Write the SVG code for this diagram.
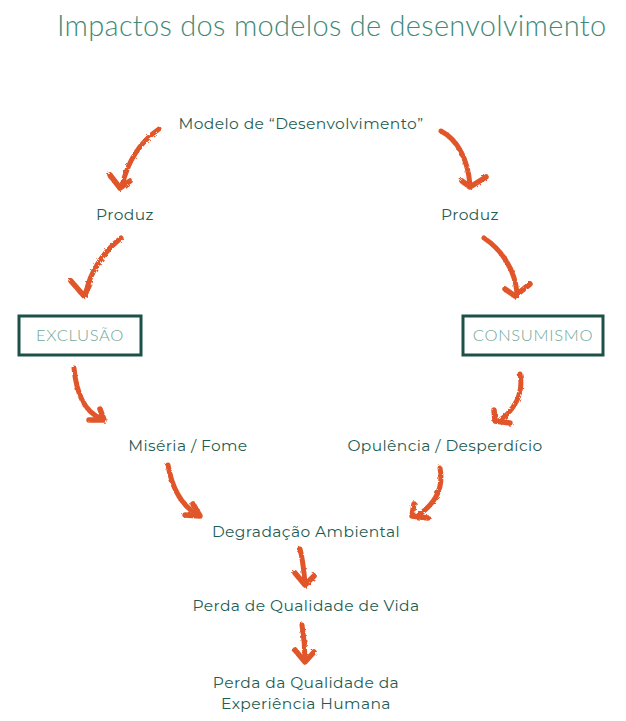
<svg xmlns="http://www.w3.org/2000/svg" width="626" height="721" viewBox="0 0 626 721">
<defs>
<filter id="rough" x="-20%" y="-20%" width="140%" height="140%">
<feTurbulence type="fractalNoise" baseFrequency="0.35" numOctaves="2" seed="3" result="n"/>
<feDisplacementMap in="SourceGraphic" in2="n" scale="3"/>
</filter>
<style>
.t{font-family:"Gotham","Montserrat","Lato","Liberation Sans",sans-serif;font-size:15.5px;letter-spacing:0.4px;fill:#1f5d52;text-anchor:middle}
.title{font-family:"Lato","Liberation Sans",sans-serif;font-weight:300;font-size:29px;letter-spacing:0.3px;fill:#3f8a78}
.bt{font-family:"Lato","Liberation Sans",sans-serif;font-weight:300;font-size:16.5px;letter-spacing:0.7px;fill:#6fa89b;text-anchor:middle}
.box{fill:#fff;stroke:#1d5048;stroke-width:3}
.arr{fill:none;stroke:#e0572a;stroke-width:5;stroke-linecap:round;stroke-linejoin:round}
.head{fill:none;stroke:#e0572a;stroke-width:5.5;stroke-linecap:round;stroke-linejoin:round}
</style>
</defs>
<rect width="626" height="721" fill="#fff"/>
<text id="title" class="title" x="57" y="36">Impactos dos modelos de desenvolvimento</text>

<g id="connectors" filter="url(#rough)">
<g id="c1"><path class="arr" d="M159,129 C140,142 128,160 122,186"/><path class="head" d="M110,175 L120,188 L130,181"/></g>
<g id="c2"><path class="arr" d="M441,131 C458,140 468,160 470,185"/><path class="head" d="M462,181 L470,187 L486,177"/></g>
<g id="c3"><path class="arr" d="M121,238 C103,252 90,272 86,293"/><path class="head" d="M71,281 L84,296 L89,286"/></g>
<g id="c4"><path class="arr" d="M484,238 C502,250 515,270 517,293"/><path class="head" d="M505,289 L515,296 L530,284"/></g>
<g id="c5"><path class="arr" d="M74,368 C76,390 82,410 100,418"/><path class="head" d="M89,420 L104,420 L100,409"/></g>
<g id="c6"><path class="arr" d="M520,374 C524,394 514,410 500,420"/><path class="head" d="M494,410 L495,421 L510,423"/></g>
<g id="c7"><path class="arr" d="M168,465 C172,488 182,505 196,514"/><path class="head" d="M185,515 L200,516 L193,504"/></g>
<g id="c8"><path class="arr" d="M440,468 C444,488 435,503 420,514"/><path class="head" d="M414,504 L412,516 L428,518"/></g>
<g id="c9"><path class="arr" d="M300,549 C303,560 304,572 305,583"/><path class="head" d="M295,573 L305,585 L314,576"/></g>
<g id="c10"><path class="arr" d="M302,625 C304,637 305,650 305,660"/><path class="head" d="M295,650 L305,662 L314,652"/></g>
</g>

<g id="n-modelo"><text class="t" x="301" y="129">Modelo de “Desenvolvimento”</text></g>
<g id="n-produz-l"><text class="t" x="125" y="220">Produz</text></g>
<g id="n-produz-r"><text class="t" x="470" y="220">Produz</text></g>
<g id="n-exclusao"><rect class="box" x="19" y="316" width="122" height="39"/><text class="bt" x="80" y="341">EXCLUSÃO</text></g>
<g id="n-consumismo"><rect class="box" x="463" y="316" width="140" height="39"/><text class="bt" x="533" y="341">CONSUMISMO</text></g>
<g id="n-miseria"><text class="t" x="188" y="451">Miséria / Fome</text></g>
<g id="n-opulencia"><text class="t" x="445" y="451">Opulência / Desperdício</text></g>
<g id="n-degradacao"><text class="t" x="306" y="537">Degradação Ambiental</text></g>
<g id="n-perda-vida"><text class="t" x="306" y="611">Perda de Qualidade de Vida</text></g>
<g id="n-perda-exp"><text class="t" x="306" y="688">Perda da Qualidade da</text><text class="t" x="306" y="709">Experiência Humana</text></g>
</svg>
